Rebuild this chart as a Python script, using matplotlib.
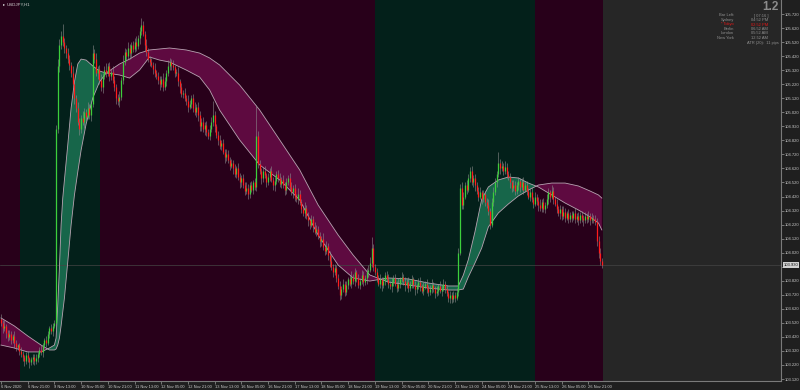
import numpy as np
import matplotlib
matplotlib.use("Agg")
import matplotlib.pyplot as plt
from matplotlib.transforms import blended_transform_factory

plt.rcParams["font.family"] = ["Liberation Sans", "DejaVu Sans"]

# ---------------- data (USDJPY, H1) ----------------
first_open = 103.55
closes = [
    103.52, 103.48, 103.50, 103.45, 103.42, 103.44, 103.40, 103.43, 103.38, 103.35,
    103.36, 103.32, 103.30, 103.28, 103.25, 103.29, 103.27, 103.24, 103.26, 103.28,
    103.25, 103.27, 103.30, 103.33, 103.31, 103.36, 103.40, 103.38, 103.44, 103.48,
    103.46, 103.50, 103.52, 104.90, 105.35, 105.50, 105.56, 105.52, 105.48, 105.44,
    105.40, 105.36, 105.30, 105.22, 105.12, 105.05, 104.95, 104.90, 104.98, 104.95,
    105.02, 104.99, 105.05, 105.00, 105.08, 105.44, 105.40, 105.30, 105.33, 105.25,
    105.20, 105.28, 105.32, 105.30, 105.35, 105.28, 105.31, 105.25, 105.20, 105.12,
    105.10, 105.13, 105.25, 105.38, 105.45, 105.42, 105.48, 105.44, 105.50, 105.47,
    105.52, 105.49, 105.55, 105.60, 105.64, 105.58, 105.50, 105.45, 105.40, 105.38,
    105.36, 105.33, 105.30, 105.28, 105.25, 105.22, 105.26, 105.20, 105.24, 105.30,
    105.35, 105.38, 105.36, 105.34, 105.30, 105.30, 105.24, 105.20, 105.15, 105.16,
    105.12, 105.10, 105.06, 105.08, 105.12, 105.05, 105.02, 105.06, 105.00, 104.92,
    104.95, 104.90, 104.93, 104.88, 104.85, 104.90, 104.95, 105.00, 104.92, 104.86,
    104.82, 104.78, 104.80, 104.74, 104.70, 104.72, 104.68, 104.64, 104.66, 104.62,
    104.58, 104.62, 104.56, 104.52, 104.55, 104.50, 104.46, 104.48, 104.44, 104.50,
    104.47, 104.52, 104.49, 104.85, 104.65, 104.60, 104.55, 104.60, 104.57, 104.52,
    104.56, 104.60, 104.54, 104.50, 104.53, 104.58, 104.55, 104.51, 104.54, 104.50,
    104.47, 104.52, 104.55, 104.49, 104.45, 104.48, 104.42, 104.40, 104.44, 104.38,
    104.33, 104.30, 104.34, 104.28, 104.25, 104.22, 104.26, 104.20, 104.17, 104.19,
    104.14, 104.10, 104.12, 104.06, 104.03, 104.07, 104.00, 103.96, 103.92, 103.88,
    103.91, 103.84, 103.78, 103.72, 103.76, 103.80, 103.74, 103.79, 103.83, 103.80,
    103.85, 103.82, 103.88, 103.84, 103.79, 103.82, 103.86, 103.81, 103.84, 103.88,
    103.90, 103.95, 104.05, 103.92, 103.88, 103.84, 103.80, 103.83, 103.79, 103.82,
    103.86, 103.83, 103.80, 103.78, 103.81, 103.84, 103.80, 103.77, 103.80, 103.83,
    103.85, 103.82, 103.79, 103.81, 103.77, 103.80, 103.83, 103.79, 103.76, 103.78,
    103.81, 103.78, 103.75, 103.78, 103.80, 103.77, 103.74, 103.76, 103.79, 103.76,
    103.73, 103.75, 103.78, 103.75, 103.77, 103.80, 103.76, 103.73, 103.70, 103.72,
    103.69, 103.72, 103.70, 103.74, 104.02, 104.48, 104.36, 104.42, 104.50, 104.47,
    104.55, 104.60, 104.52, 104.55, 104.50, 104.46, 104.42, 104.45, 104.40, 104.44,
    104.38, 104.36, 104.32, 104.22, 104.38, 104.45, 104.52, 104.58, 104.66, 104.62,
    104.64, 104.60, 104.63, 104.58, 104.56, 104.52, 104.48, 104.50, 104.46, 104.50,
    104.53, 104.49, 104.52, 104.47, 104.50, 104.46, 104.42, 104.45, 104.40, 104.37,
    104.42, 104.39, 104.36, 104.34, 104.38, 104.33, 104.36, 104.40, 104.45, 104.42,
    104.46, 104.40, 104.37, 104.33, 104.30, 104.33, 104.28, 104.31, 104.27, 104.30,
    104.26, 104.29, 104.27, 104.30, 104.26, 104.28, 104.25, 104.29, 104.27, 104.25,
    104.28, 104.26, 104.28, 104.25, 104.27, 104.26, 104.24, 104.10, 104.02, 103.96,
    103.93,
]
# upper / lower wick lengths in pips (0.01)
wick_up = [
    3,2,4,1,2,3,2,1,3,2,1,2,3,2,1,2,3,1,2,2,
    2,3,1,2,3,2,1,3,2,2,3,2,2,3,5,4,4,9,3,2,
    4,3,2,5,3,2,4,3,2,5,3,2,4,3,2,6,3,4,2,3,
    4,2,3,5,2,3,2,4,3,2,3,4,2,5,3,2,4,3,2,3,
    3,4,2,3,5,3,2,4,3,2,3,2,4,2,3,3,2,4,3,2,
    4,3,2,3,2,3,4,2,3,2,3,2,4,3,2,3,4,2,3,3,
    3,4,2,3,2,3,4,10,3,2,3,4,2,3,2,4,3,2,3,2,
    3,2,4,3,2,3,2,4,3,2,3,2,3,22,4,3,2,3,4,2,
    3,2,4,2,3,2,3,4,2,3,2,3,2,4,3,2,3,2,4,3,
    2,3,4,2,3,2,3,2,4,3,2,3,2,4,2,3,2,3,4,2,
    3,2,3,4,2,3,2,3,2,3,4,2,3,2,3,2,4,3,2,3,
    3,4,8,3,2,3,2,4,2,3,2,3,4,2,3,2,3,2,4,2,
    3,2,3,2,4,2,3,2,3,2,3,4,2,3,2,3,2,3,4,2,
    2,3,2,4,2,3,2,3,2,3,2,3,2,3,3,3,4,3,2,4,
    3,3,4,2,3,2,3,4,2,3,2,3,4,2,3,4,3,2,8,3,
    3,2,4,3,2,3,2,4,3,2,3,2,3,4,2,3,2,3,4,2,
    3,2,3,4,2,3,2,4,3,2,4,3,2,3,2,3,2,4,3,2,
    3,2,3,2,4,2,3,2,3,2,3,2,4,2,3,2,3,3,4,3,
    2,
]
wick_dn = [
    2,3,2,4,3,2,3,2,4,3,2,3,2,3,4,2,3,4,2,3,
    3,2,3,2,2,3,2,3,2,3,2,3,2,5,3,4,3,3,4,3,
    3,4,3,2,4,3,2,4,3,2,4,3,2,3,4,2,3,2,4,3,
    3,4,2,3,2,4,3,2,3,4,3,4,2,3,2,3,2,4,3,2,
    2,3,2,4,3,2,4,3,2,3,2,4,3,2,3,4,2,3,2,3,
    2,3,4,2,3,2,3,4,2,3,2,3,4,2,3,3,2,3,4,3,
    3,2,4,3,2,3,2,3,4,2,3,2,3,2,4,3,2,3,2,4,
    2,3,2,4,3,2,3,2,4,3,2,3,2,3,3,2,4,3,2,3,
    2,3,2,3,4,2,3,2,3,2,4,3,2,3,2,4,3,2,3,2,
    3,2,3,2,4,3,2,3,2,3,2,4,3,2,3,2,3,4,2,3,
    2,3,2,4,3,2,3,2,3,2,3,2,4,3,2,3,2,3,2,4,
    3,2,3,3,2,3,2,3,4,2,3,2,3,2,4,3,2,3,2,3,
    2,3,4,2,3,2,3,2,4,3,2,3,2,3,2,4,3,2,3,2,
    3,2,3,2,4,2,3,2,3,4,3,2,3,2,3,2,3,3,2,3,
    2,3,2,3,4,2,3,2,3,2,3,2,3,3,2,3,2,3,2,4,
    2,3,2,3,2,4,3,2,3,2,3,4,2,3,2,3,2,3,2,3,
    2,3,4,2,3,2,3,2,3,4,2,3,2,3,2,4,3,2,3,2,
    3,2,3,2,3,2,3,2,3,4,2,3,2,3,2,3,2,3,4,3,
    2,
]

# moving-average cloud (bar index, price)
ma_idx = [0, 8, 16, 24, 29, 32, 33, 34, 35, 36, 37, 38, 40, 42, 44, 46, 48, 51, 55, 59,
          63, 71, 77, 83, 89, 95, 101, 111, 119, 125, 131, 143, 155, 167, 179, 190, 202,
          211, 221, 232, 244, 256, 268, 274, 277, 280, 284, 288, 292, 298, 304, 310, 316,
          322, 330, 338, 346, 353, 358, 360]
fast_ma = [103.362, 103.341, 103.313, 103.313, 103.341, 103.362, 103.412, 103.647, 103.911,
           104.217, 104.409, 104.538, 104.787, 105.050, 105.236, 105.364, 105.399, 105.392,
           105.350, 105.314, 105.300, 105.286, 105.264, 105.321, 105.414, 105.392, 105.378,
           105.321, 105.271, 105.179, 105.036, 104.823, 104.645, 104.538, 104.395, 104.146,
           103.932, 103.840, 103.818, 103.840, 103.833, 103.804, 103.783, 103.783, 103.860,
           103.970, 104.170, 104.400, 104.488, 104.538, 104.559, 104.552, 104.516, 104.488,
           104.431, 104.374, 104.324, 104.274, 104.231, 104.182]
slow_ma = [103.555, 103.498, 103.427, 103.362, 103.327, 103.327, 103.334, 103.362, 103.412,
           103.498, 103.598, 103.697, 103.954, 104.217, 104.431, 104.595, 104.751, 104.937,
           105.122, 105.236, 105.300, 105.364, 105.399, 105.442, 105.464, 105.471, 105.478,
           105.464, 105.442, 105.407, 105.357, 105.214, 105.036, 104.823, 104.609, 104.360,
           104.146, 104.003, 103.861, 103.811, 103.790, 103.768, 103.754, 103.754, 103.761,
           103.847, 103.947, 104.053, 104.203, 104.303, 104.367, 104.424, 104.466, 104.502,
           104.516, 104.516, 104.495, 104.459, 104.431, 104.409]

# session background bands (start bar, end bar, kind)
band_start = [-1, 11.4, 59.3, 224, 320]
band_end = [11.4, 59.3, 224, 320, 360.6]
band_kind = ["m", "g", "m", "g", "m"]

time_tick_bars = list(range(0, 353, 16))
time_labels = ["6 Nov 2020", "6 Nov 21:00", "9 Nov 13:00", "10 Nov 05:00", "10 Nov 21:00",
               "11 Nov 13:00", "12 Nov 05:00", "12 Nov 21:00", "13 Nov 13:00", "16 Nov 05:00",
               "16 Nov 21:00", "17 Nov 13:00", "18 Nov 05:00", "18 Nov 21:00", "19 Nov 13:00",
               "20 Nov 05:00", "20 Nov 21:00", "23 Nov 13:00", "24 Nov 05:00", "24 Nov 21:00",
               "25 Nov 13:00", "26 Nov 05:00", "26 Nov 21:00"]
price_ticks = [round(103.12 + 0.1 * k, 2) for k in range(27)]

info_labels = ["Bar Left:", "Sydney", "* Tokyo", "Berlin", "London", "New York"]
info_values = ["[ 07:16 ]", "04:52 PM", "02:52 PM", "06:52 AM", "05:52 AM", "12:52 AM"]
atr_text = "ATR (20):  11 pips"
spread_text = "1.2"
symbol_text = "USDJPY,H1"

assert len(closes) == len(wick_up) == len(wick_dn) == 361
assert len(ma_idx) == len(fast_ma) == len(slow_ma)

# ---------------- figure ----------------
W, H = 800, 390
fig = plt.figure(figsize=(8, 3.9), dpi=100, facecolor="#1f1f1f")
ax_right = 781
ax_bottom = 381
ax = fig.add_axes([0, (H - ax_bottom) / H, ax_right / W, ax_bottom / H])
ax.set_facecolor("#262626")

px_per_bar = 1.669
ax.set_xlim(-1 / px_per_bar, (ax_right - 1) / px_per_bar)
ax.set_ylim(103.106, 105.820)

col_bg = {"m": "#28001a", "g": "#03201a"}
for s, e, k in zip(band_start, band_end, band_kind):
    ax.axvspan(s, e, color=col_bg[k], lw=0, zorder=0)

c = np.array(closes)
o = np.concatenate([[first_open], c[:-1]])
hi = np.maximum(o, c) + np.array(wick_up) / 100.0
lo = np.minimum(o, c) - np.array(wick_dn) / 100.0
x = np.arange(len(c))

# MA cloud
mx = np.array(ma_idx, dtype=float)
fm = np.array(fast_ma)
sm = np.array(slow_ma)
ax.fill_between(mx, fm, sm, where=fm >= sm, interpolate=True, color="#17664a", lw=0, zorder=1)
ax.fill_between(mx, fm, sm, where=fm <= sm, interpolate=True, color="#5e0a40", lw=0, zorder=1)
ax.plot(mx, fm, color="#b8a4b2", lw=0.6, zorder=2)
ax.plot(mx, sm, color="#b8a4b2", lw=0.6, zorder=2)

# current price line
ax.axhline(c[-1], color="#454545", lw=0.5, zorder=1.5)

# candles
ax.vlines(x, lo, hi, color="#8c8c8c", lw=0.4, zorder=3)
up = c >= o
btm = np.minimum(o, c)
top = np.maximum(o, c)
top = np.where(top - btm < 0.004, btm + 0.004, top)
ax.vlines(x[up], btm[up], top[up], color="#3ccf3c", lw=0.9, zorder=4)
ax.vlines(x[~up], btm[~up], top[~up], color="#ff1c1c", lw=0.9, zorder=4)

# axes styling
for s in ["top", "left"]:
    ax.spines[s].set_visible(False)
for s in ["right", "bottom"]:
    ax.spines[s].set_color("#7a7a7a")
    ax.spines[s].set_linewidth(0.8)

last_price = c[-1]
ax.yaxis.tick_right()
ax.set_yticks(price_ticks)
ax.set_yticklabels(["" if abs(p - last_price) < 0.04 else f"{p:.3f}" for p in price_ticks])
ax.tick_params(axis="y", length=2, width=0.5, color="#9a9a9a", labelsize=3.0,
               labelcolor="#c8c8c8", pad=1.0)
ax.set_xticks(time_tick_bars)
ax.set_xticklabels(time_labels)
ax.tick_params(axis="x", length=2, width=0.5, color="#9a9a9a", labelsize=2.9,
               labelcolor="#c8c8c8", pad=0.8)
for lab in ax.get_xticklabels():
    lab.set_ha("left")

# price box
tr = blended_transform_factory(ax.transAxes, ax.transData)
ax.text(1.0035, last_price, f"{last_price:.3f}", transform=tr, fontsize=3.0, color="#111111",
        va="center", ha="left", clip_on=False, zorder=10,
        bbox=dict(boxstyle="square,pad=0.2", fc="#d2d2d2", ec="none"))

# overlay text
def ftext(px, py, s, **kw):
    fig.text(px / W, 1 - py / H, s, **kw)

ftext(3, 4.5, "\u25B8", fontsize=3.2, color="#dddddd", va="center", ha="left",
      family=["DejaVu Sans"])
ftext(7, 4.5, symbol_text, fontsize=3.2, color="#d0d0d0", va="center", ha="left")

ftext(779, 7.5, spread_text, fontsize=8.5, color="#8c8c8c", va="center", ha="right",
      fontweight="bold")
row_y = [15.5, 20.0, 24.5, 29.0, 33.5, 38.0]
for yy, lab, val in zip(row_y, info_labels, info_values):
    colr = "#e01818" if "Tokyo" in lab else "#8f8f8f"
    ftext(734, yy, lab, fontsize=2.9, color=colr, va="center", ha="right")
    ftext(768, yy, val, fontsize=2.9, color=colr, va="center", ha="right")
ftext(779, 43.0, atr_text, fontsize=2.9, color="#8f8f8f", va="center", ha="right")

fig.savefig("out.png", dpi=100, facecolor=fig.get_facecolor())
